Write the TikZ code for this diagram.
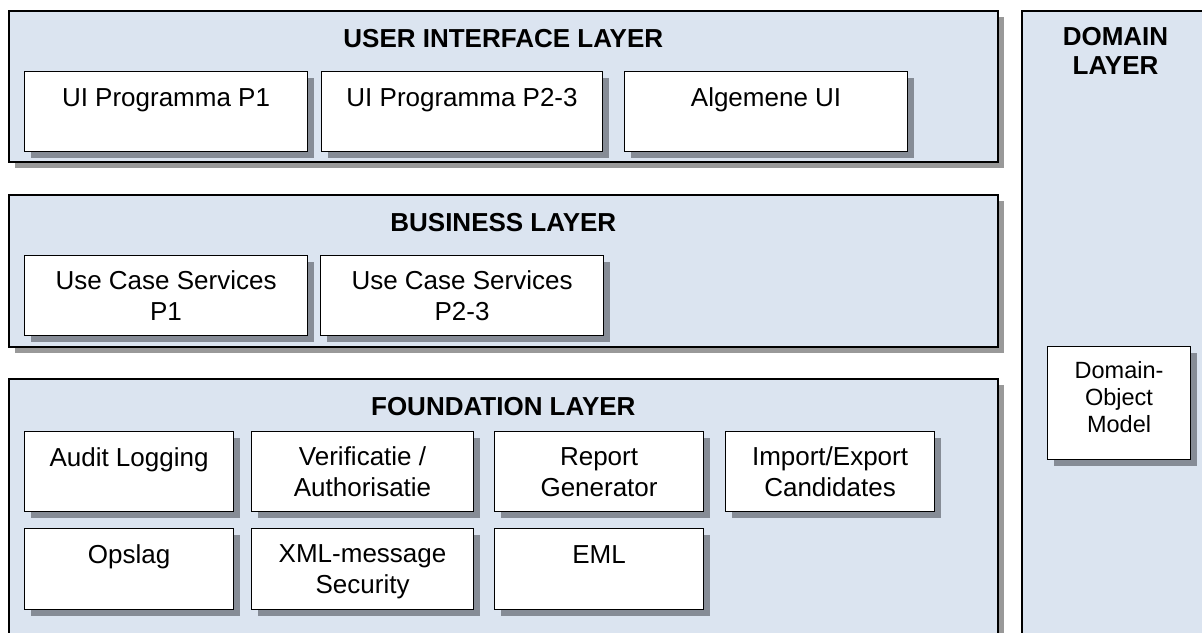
\documentclass[tikz,border=0pt]{standalone}
\usepackage{fontspec}
\setmainfont{Liberation Sans}
\usetikzlibrary{shadows}

\definecolor{layerfill}{RGB}{219,228,240}
\definecolor{unitshadow}{RGB}{134,140,150}
\definecolor{layershadow}{RGB}{153,153,153}

\tikzset{
  layerbox/.style={rectangle, draw=black, line width=1.6pt, fill=layerfill,
    inner sep=0pt, anchor=north west},
  shadowedlayer/.style={layerbox,
    drop shadow={shadow xshift=6pt, shadow yshift=-6pt, fill=layershadow, opacity=1}},
  unitbox/.style={rectangle, draw=black, line width=1.1pt, fill=white,
    inner sep=0pt, anchor=north west,
    drop shadow={shadow xshift=6pt, shadow yshift=-6pt, fill=unitshadow, opacity=1}},
  % multi-line texts are anchored on the baseline of their last line
  layertitle/.style={inner sep=0pt, anchor=base, align=center,
    font=\fontsize{26}{29.5}\selectfont\bfseries},
  unittext/.style={inner sep=0pt, anchor=base, align=center,
    font=\fontsize{26}{31}\selectfont},
  smalltext/.style={inner sep=0pt, anchor=base, align=center,
    font=\fontsize{23.5}{27}\selectfont},
}

\begin{document}
\begin{tikzpicture}[x=1pt, y=-1pt]
  \useasboundingbox (0,0) rectangle (1202,632);
  \clip (0,0) rectangle (1202,632);

  % domain layer (runs past the right and bottom edges)
  \node[layerbox, minimum width=190pt, minimum height=660pt] (domain) at (1021,10) {};
  \node[layertitle] (domaintitle) at (1115.5,74.5) {DOMAIN\\LAYER};
  \node[unitbox, minimum width=143pt, minimum height=113pt] (dom) at (1047,346) {};
  \node[smalltext] (domt) at ([yshift=-86pt]dom.north) {Domain-\\Object\\Model};

  % user interface layer
  \node[shadowedlayer, minimum width=989pt, minimum height=151pt] (ui) at (8,10) {};
  \node[layertitle] (uititle) at ([yshift=-37pt]ui.north) {USER INTERFACE LAYER};
  \node[unitbox, minimum width=283pt, minimum height=80pt] (uip1) at (24,71) {};
  \node[unitbox, minimum width=281pt, minimum height=80pt] (uip23) at (321,71) {};
  \node[unitbox, minimum width=283pt, minimum height=80pt] (uialg) at (624,71) {};
  \node[unittext] (uip1t) at ([yshift=-35pt]uip1.north) {UI Programma P1};
  \node[unittext] (uip23t) at ([yshift=-35pt]uip23.north) {UI Programma P2-3};
  \node[unittext] (uialgt) at ([yshift=-35pt]uialg.north) {Algemene UI};

  % business layer
  \node[shadowedlayer, minimum width=989pt, minimum height=152pt] (bus) at (8,194) {};
  \node[layertitle] (bustitle) at ([yshift=-37pt]bus.north) {BUSINESS LAYER};
  \node[unitbox, minimum width=283pt, minimum height=80pt] (ucs1) at (24,255) {};
  \node[unitbox, minimum width=283pt, minimum height=80pt] (ucs23) at (320,255) {};
  \node[unittext] (ucs1t) at ([yshift=-65pt]ucs1.north) {Use Case Services\\P1};
  \node[unittext] (ucs23t) at ([yshift=-65pt]ucs23.north) {Use Case Services\\P2-3};

  % foundation layer (runs past the bottom edge)
  \node[shadowedlayer, minimum width=989pt, minimum height=290pt] (fnd) at (8,378) {};
  \node[layertitle] (fndtitle) at ([yshift=-37pt]fnd.north) {FOUNDATION LAYER};
  \node[unitbox, minimum width=209pt, minimum height=80pt] (audit) at (24,431) {};
  \node[unitbox, minimum width=222pt, minimum height=80pt] (verif) at (251,431) {};
  \node[unitbox, minimum width=209pt, minimum height=80pt] (report) at (494,431) {};
  \node[unitbox, minimum width=209pt, minimum height=80pt] (impexp) at (725,431) {};
  \node[unitbox, minimum width=209pt, minimum height=81pt] (opslag) at (24,528) {};
  \node[unitbox, minimum width=222pt, minimum height=81pt] (xmlsec) at (251,528) {};
  \node[unitbox, minimum width=209pt, minimum height=81pt] (eml) at (494,528) {};
  \node[unittext] (auditt) at ([yshift=-35pt]audit.north) {Audit Logging};
  \node[unittext] (veriftt) at ([yshift=-65pt]verif.north) {Verificatie /\\Authorisatie};
  \node[unittext] (reportt) at ([yshift=-65pt]report.north) {Report\\Generator};
  \node[unittext] (impexpt) at ([yshift=-65pt]impexp.north) {Import/Export\\Candidates};
  \node[unittext] (opslagt) at ([yshift=-35pt]opslag.north) {Opslag};
  \node[unittext] (xmlsect) at ([yshift=-65pt]xmlsec.north) {XML-message\\Security};
  \node[unittext] (emlt) at ([yshift=-35pt]eml.north) {EML};
\end{tikzpicture}
\end{document}
